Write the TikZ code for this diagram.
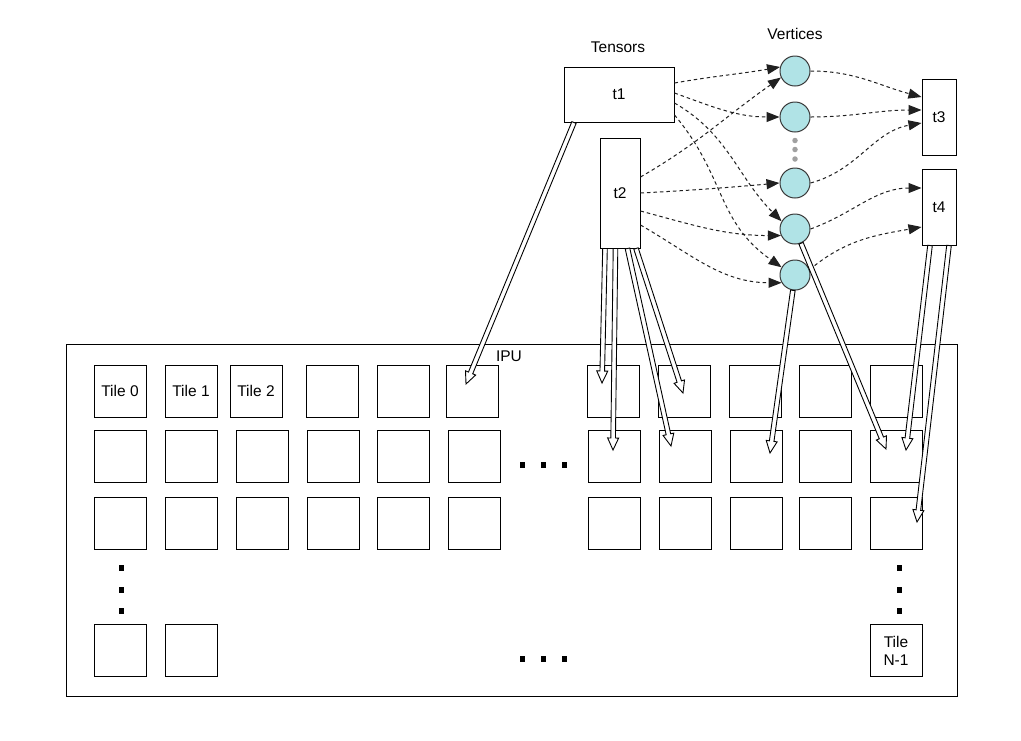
\documentclass[tikz,border=0pt]{standalone}
\usepackage{fontspec}
\setmainfont{Liberation Sans}
\usetikzlibrary{calc,arrows.meta}
\definecolor{vfill}{HTML}{B0E3E6}
\definecolor{vline}{HTML}{3A3A3A}
\definecolor{flowgray}{HTML}{202020}
\definecolor{dotgray}{HTML}{A0A0A0}
\newcommand\hollowarrow[2]{%
  \path ($(#2)!12pt!(#1)$) coordinate (hbase);
  \draw[hollowarrowstyle] ($(#1)!2.3pt!90:(#2)$) -- ($(hbase)!2.3pt!90:(#2)$) -- ($(hbase)!5.5pt!90:(#2)$) -- (#2) -- ($(hbase)!5.5pt!-90:(#2)$) -- ($(hbase)!2.3pt!-90:(#2)$) -- ($(#1)!2.3pt!-90:(#2)$) -- cycle;
}
\begin{document}
\begin{tikzpicture}[x=1pt,y=1pt,
  lbl/.style={font=\fontsize{15.5}{18}\selectfont, inner sep=0},
  tile/.style={draw, line width=1pt, minimum width=52pt, minimum height=52pt, inner sep=0, font=\fontsize{15.5}{18}\selectfont, align=center},
  tensor/.style={draw, line width=1pt, fill=white, inner sep=0, font=\fontsize{15.5}{18}\selectfont},
  vertex/.style={circle, draw=vline, fill=vfill, line width=1pt, minimum size=30pt, inner sep=0},
  flow/.style={draw=flowgray, line width=1pt, dash pattern=on 3.5pt off 3pt, -{Triangle[length=13pt,width=10pt]}},
  hollowarrowstyle/.style={draw, fill=white, line width=0.9pt, line join=miter},
  dotsq/.style={fill=black, minimum width=5pt, minimum height=6pt, inner sep=0},
  gdot/.style={circle, fill=dotgray, minimum size=5.5pt, inner sep=0}]

\useasboundingbox (0,0) rectangle (1021,-740);
\fill[white] (0,0) rectangle (1021,-740);

% IPU frame
\node[draw, line width=1pt, minimum width=891pt, minimum height=352pt, inner sep=0] (ipu) at (511.5,-520) {};
\node[lbl] (ipulabel) at (509,-356) {IPU};

% tiles row 1
\foreach \x [count=\i] in {120,191,256,332,403,472,613,684,755,825,896}
  \node[tile] (r1c\i) at (\x,-391) {};
\node[lbl] at (r1c1) {Tile 0};
\node[lbl] at (r1c2) {Tile 1};
\node[lbl] at (r1c3) {Tile 2};
% tiles rows 2 and 3
\foreach \x [count=\i] in {120,191,262,333,403,474,614,685,756,825,896} {
  \node[tile] (r2c\i) at (\x,-456.5) {};
  \node[tile] (r3c\i) at (\x,-523) {};
}
% tiles row 4
\node[tile] (r4c1) at (120,-650.5) {};
\node[tile] (r4c2) at (191,-650.5) {};
\node[tile] (tileN) at (896,-650.5) {Tile\\N-1};

% ellipsis squares
\foreach \x [count=\i] in {522,543,564} {
  \node[dotsq] (hdotA\i) at (\x,-465) {};
  \node[dotsq] (hdotB\i) at (\x,-659) {};
}
\foreach \y [count=\i] in {568,590,611} {
  \node[dotsq] (vdotL\i) at (121.5,-\y) {};
  \node[dotsq] (vdotR\i) at (899,-\y) {};
}

% labels
\node[lbl] (tensorslbl) at (618,-47) {Tensors};
\node[lbl] (verticeslbl) at (795,-34) {Vertices};

% tensors
\node[tensor, minimum width=110pt, minimum height=55pt] (t1) at (619,-94.5) {t1};
\node[tensor, minimum width=40pt, minimum height=110pt] (t2) at (620,-193) {t2};
\node[tensor, minimum width=34pt, minimum height=76pt] (t3) at (939,-117) {t3};
\node[tensor, minimum width=34pt, minimum height=76pt] (t4) at (939,-207) {t4};

% vertices
\node[vertex] (c1) at (795,-71) {};
\node[vertex] (c2) at (795,-117) {};
\node[vertex] (c3) at (795,-183) {};
\node[vertex] (c4) at (795,-229) {};
\node[vertex] (c5) at (795,-275) {};
\node[gdot] (g1) at (795,-140.5) {};
\node[gdot] (g2) at (795,-149.5) {};
\node[gdot] (g3) at (795,-159) {};

% dashed flows
\draw[flow] ([yshift=11.5pt]t1.east) to[out=10,in=190] (c1.165);
\draw[flow] ([yshift=1.5pt]t1.east) to[out=-20,in=180] (c2.west);
\draw[flow] ([yshift=-8.5pt]t1.east) to[out=-30,in=135] (c4.150);
\draw[flow] ([yshift=-20.5pt]t1.east) to[out=-50,in=145,looseness=1.1] (c5.150);
\draw[flow] ([yshift=16pt]t2.east) to[out=30,in=215] (c1.205);
\draw[flow] (t2.east) to[out=3,in=185] (c3.west);
\draw[flow] ([yshift=-18pt]t2.east) to[out=-15,in=180] (c4.205);
\draw[flow] ([yshift=-32pt]t2.east) to[out=-30,in=180] (c5.210);
\draw[flow] (c1.east) to[out=0,in=165] ([yshift=20pt]t3.west);
\draw[flow] (c2.east) to[out=0,in=180] ([yshift=7pt]t3.west);
\draw[flow] (c3.east) to[out=15,in=190] ([yshift=-6pt]t3.west);
\draw[flow] (c4.east) to[out=20,in=180] ([yshift=19pt]t4.west);
\draw[flow] (c5.20) to[out=40,in=190] ([yshift=-20pt]t4.west);

% hollow arrow endpoints
\coordinate (s1) at ([xshift=-45pt]t1.south);
\coordinate (s2) at ([xshift=-15pt]t2.south);
\coordinate (s3) at ([xshift=-4.5pt]t2.south);
\coordinate (s4) at ([xshift=7.5pt]t2.south);
\coordinate (s5) at ([xshift=16pt]t2.south);
\coordinate (s6) at (c4.-67);
\coordinate (s7) at (c5.-98);
\coordinate (s8) at ([xshift=-9pt]t4.south);
\coordinate (s9) at ([xshift=10pt]t4.south);
\coordinate (e1) at (466,-384);
\coordinate (e2) at (602,-383);
\coordinate (e3) at (613,-450);
\coordinate (e4) at (671,-446);
\coordinate (e5) at (683,-393);
\coordinate (e6) at (886,-449);
\coordinate (e7) at (770,-453);
\coordinate (e8) at (906,-450);
\coordinate (e9) at (917,-522);

\hollowarrow{s1}{e1}
\hollowarrow{s2}{e2}
\hollowarrow{s3}{e3}
\hollowarrow{s4}{e4}
\hollowarrow{s5}{e5}
\hollowarrow{s6}{e6}
\hollowarrow{s7}{e7}
\hollowarrow{s8}{e8}
\hollowarrow{s9}{e9}
\end{tikzpicture}
\end{document}
